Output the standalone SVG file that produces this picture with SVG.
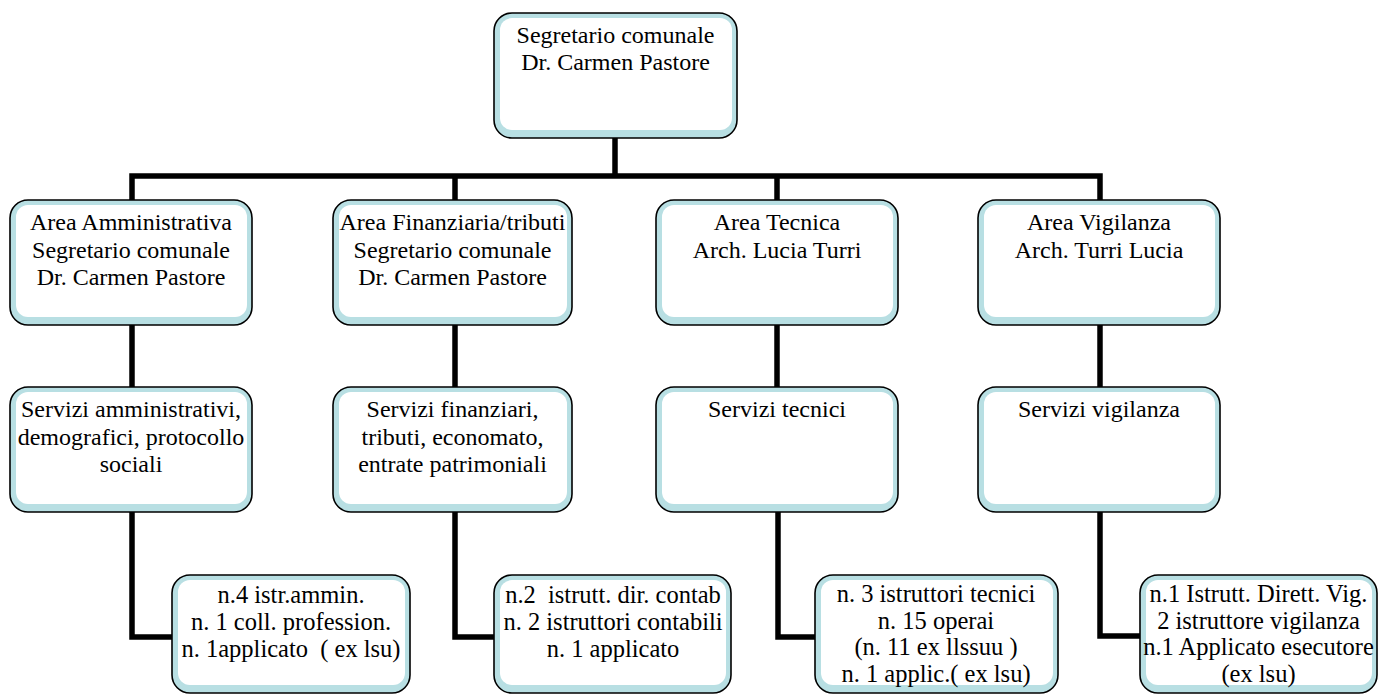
<svg xmlns="http://www.w3.org/2000/svg" width="1378" height="695" viewBox="0 0 1378 695">
<style>
.frame{fill:#b8dfe3;stroke:#000;stroke-width:1.6}
.inner{fill:#fff}
.t{font-family:"Liberation Serif","Times New Roman",serif;font-size:24px;fill:#000;text-anchor:middle}
.b{font-size:24.5px}
.conn{fill:none;stroke:#000;stroke-width:5.5;stroke-linejoin:miter}
</style>
<rect width="1378" height="695" fill="#fff"/>
<g id="connectors">
<line class="conn" x1="615" y1="138" x2="615" y2="176"/>
<polyline class="conn" points="132,200 132,176 1100,176 1100,200"/>
<line class="conn" x1="455" y1="176" x2="455" y2="200"/>
<line class="conn" x1="777" y1="176" x2="777" y2="200"/>
<line class="conn" x1="132" y1="325" x2="132" y2="387"/>
<line class="conn" x1="455" y1="325" x2="455" y2="387"/>
<line class="conn" x1="777" y1="325" x2="777" y2="387"/>
<line class="conn" x1="1100" y1="325" x2="1100" y2="387"/>
<polyline class="conn" points="132,512 132,637 172,637"/>
<polyline class="conn" points="455,512 455,637 494,637"/>
<polyline class="conn" points="778,512 778,637 815,637"/>
<polyline class="conn" points="1100,512 1100,636 1140,636"/>
</g>
<g id="segretario">
<rect class="frame" x="494" y="13" width="243" height="125" rx="18"/>
<rect class="inner" x="500" y="18" width="232" height="112" rx="12"/>
<text class="t" x="615.5" y="43">Segretario comunale</text>
<text class="t" x="615.5" y="70">Dr. Carmen Pastore</text>
</g>
<g id="area-amministrativa">
<rect class="frame" x="10" y="200" width="242" height="125" rx="18"/>
<rect class="inner" x="16" y="205" width="231" height="112" rx="12"/>
<text class="t" x="131" y="230">Area Amministrativa</text>
<text class="t" x="131" y="257.5">Segretario comunale</text>
<text class="t" x="131" y="285">Dr. Carmen Pastore</text>
</g>
<g id="area-finanziaria">
<rect class="frame" x="333" y="200" width="239" height="125" rx="18"/>
<rect class="inner" x="339" y="205" width="228" height="112" rx="12"/>
<text class="t" x="452.5" y="230">Area Finanziaria/tributi</text>
<text class="t" x="452.5" y="257.5">Segretario comunale</text>
<text class="t" x="452.5" y="285">Dr. Carmen Pastore</text>
</g>
<g id="area-tecnica">
<rect class="frame" x="656" y="200" width="242" height="125" rx="18"/>
<rect class="inner" x="662" y="205" width="231" height="112" rx="12"/>
<text class="t" x="777" y="230">Area Tecnica</text>
<text class="t" x="777" y="257.5">Arch. Lucia Turri</text>
</g>
<g id="area-vigilanza">
<rect class="frame" x="978" y="200" width="242" height="125" rx="18"/>
<rect class="inner" x="984" y="205" width="231" height="112" rx="12"/>
<text class="t" x="1099" y="230">Area Vigilanza</text>
<text class="t" x="1099" y="257.5">Arch. Turri Lucia</text>
</g>
<g id="servizi-amministrativi">
<rect class="frame" x="10" y="387" width="242" height="125" rx="18"/>
<rect class="inner" x="16" y="392" width="231" height="112" rx="12"/>
<text class="t" x="131" y="417">Servizi amministrativi,</text>
<text class="t" x="131" y="444.5">demografici, protocollo</text>
<text class="t" x="131" y="472">sociali</text>
</g>
<g id="servizi-finanziari">
<rect class="frame" x="333" y="387" width="239" height="125" rx="18"/>
<rect class="inner" x="339" y="392" width="228" height="112" rx="12"/>
<text class="t" x="452.5" y="417">Servizi finanziari,</text>
<text class="t" x="452.5" y="444.5">tributi, economato,</text>
<text class="t" x="452.5" y="472">entrate patrimoniali</text>
</g>
<g id="servizi-tecnici">
<rect class="frame" x="656" y="387" width="242" height="125" rx="18"/>
<rect class="inner" x="662" y="392" width="231" height="112" rx="12"/>
<text class="t" x="777" y="417">Servizi tecnici</text>
</g>
<g id="servizi-vigilanza">
<rect class="frame" x="978" y="387" width="242" height="125" rx="18"/>
<rect class="inner" x="984" y="392" width="231" height="112" rx="12"/>
<text class="t" x="1099" y="417">Servizi vigilanza</text>
</g>
<g id="personale-amministrativo">
<rect class="frame" x="172" y="575" width="238" height="118" rx="18"/>
<rect class="inner" x="178" y="580" width="227" height="105" rx="12"/>
<text class="t b" x="291" y="603">n.4 istr.ammin.</text>
<text class="t b" x="291" y="630">n. 1 coll. profession.</text>
<text class="t b" x="291" y="657" style="white-space:pre">n. 1applicato  ( ex lsu)</text>
</g>
<g id="personale-finanziario">
<rect class="frame" x="494" y="575" width="237" height="118" rx="18"/>
<rect class="inner" x="500" y="580" width="226" height="105" rx="12"/>
<text class="t b" x="613" y="603" style="white-space:pre">n.2  istrutt. dir. contab</text>
<text class="t b" x="613" y="630">n. 2 istruttori contabili</text>
<text class="t b" x="613" y="657">n. 1 applicato</text>
</g>
<g id="personale-tecnico">
<rect class="frame" x="815" y="575" width="243" height="118" rx="18"/>
<rect class="inner" x="821" y="580" width="232" height="105" rx="12"/>
<text class="t b" x="936" y="602">n. 3 istruttori tecnici</text>
<text class="t b" x="936" y="628.5">n. 15 operai</text>
<text class="t b" x="936" y="655">(n. 11 ex llssuu )</text>
<text class="t b" x="936" y="682">n. 1 applic.( ex lsu)</text>
</g>
<g id="personale-vigilanza">
<rect class="frame" x="1140" y="575" width="237" height="118" rx="18"/>
<rect class="inner" x="1146" y="580" width="226" height="105" rx="12"/>
<text class="t b" x="1258.5" y="602">n.1 Istrutt. Dirett. Vig.</text>
<text class="t b" x="1258.5" y="628.5">2 istruttore vigilanza</text>
<text class="t b" x="1258.5" y="655">n.1 Applicato esecutore</text>
<text class="t b" x="1258.5" y="682">(ex lsu)</text>
</g>
</svg>
